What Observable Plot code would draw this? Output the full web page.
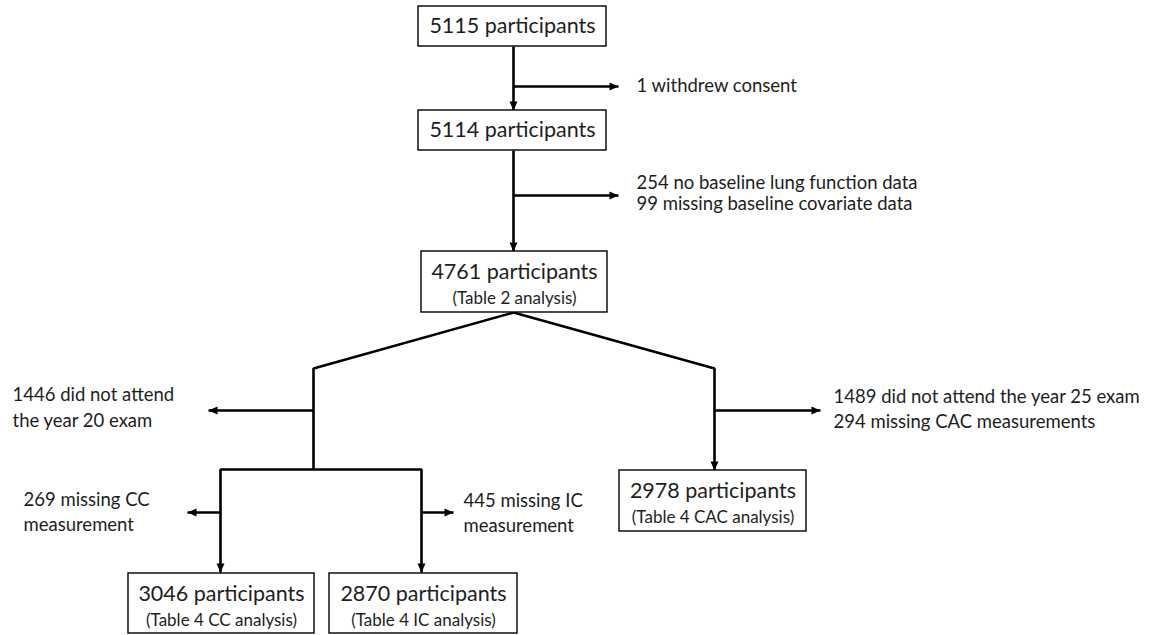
<!DOCTYPE html>
<html>
<head>
<meta charset="utf-8">
<script src="https://cdn.jsdelivr.net/npm/d3@7"></script>
<script src="https://cdn.jsdelivr.net/npm/@observablehq/plot@0.6"></script>
<style>
  html, body { margin: 0; padding: 0; background: #fff; }
</style>
</head>
<body>
<div id="chart"></div>
<script>
// ---------------- data ----------------
const participants = [5115, 5114, 4761, 2978, 3046, 2870];
const boxNotes = [null, null, "(Table 2 analysis)", "(Table 4 CAC analysis)", "(Table 4 CC analysis)", "(Table 4 IC analysis)"];
const exclusionCounts = [1, 254, 99, 1446, 1489, 294, 269, 445];
const exclusionReasons = [
  "withdrew consent",
  "no baseline lung function data",
  "missing baseline covariate data",
  "did not attend\nthe year 20 exam",
  "did not attend the year 25 exam",
  "missing CAC measurements",
  "missing CC\nmeasurement",
  "missing IC\nmeasurement"
];

// ---------------- layout (diagram units = pixels) ----------------
const boxLeft   = [418, 418, 421, 619, 128, 329];
const boxRight  = [606, 606, 607, 806, 314, 517];
const boxTop    = [6, 110, 251, 470, 573, 573];
const boxBottom = [46, 150, 312, 531, 633, 633];

const labelX   = [636, 636, 636, 12, 833, 833, 23, 463];
const labelY   = [86, 183, 204, 395, 397, 422, 500, 501];
const labelGap = [0, 0, 0, 26, 0, 0, 25, 25];

// connector polylines: [pathId, x, y]
const connectorPoints = [
  ["a", 513, 46], ["a", 513, 110],
  ["b", 513, 86], ["b", 618, 86],
  ["c", 513, 150], ["c", 513, 251],
  ["d", 513, 195], ["d", 618, 195],
  ["e", 313, 469], ["e", 313, 368], ["e", 513, 312], ["e", 714, 368], ["e", 714, 470],
  ["f", 313, 410], ["f", 208, 410],
  ["g", 714, 410], ["g", 820, 410],
  ["h", 220, 572], ["h", 220, 469], ["h", 421, 469], ["h", 421, 572],
  ["i", 220, 512], ["i", 187, 512],
  ["j", 421, 512], ["j", 453, 512]
];
// arrow heads: [x, y, direction]
const arrowTips = [
  [513, 110, "down"], [618, 86, "right"], [513, 251, "down"], [618, 195, "right"],
  [714, 470, "down"], [208, 410, "left"], [820, 410, "right"],
  [220, 572, "down"], [421, 572, "down"], [187, 512, "left"], [453, 512, "right"]
];

// ---------------- build ----------------
const W = 1159, H = 635;
const FONT = "Lato";
const INK = "#1e1e1e";

const boxes = participants.map((n, i) => ({
  title: `${n} participants`, note: boxNotes[i],
  x1: boxLeft[i], x2: boxRight[i], y1: boxTop[i], y2: boxBottom[i]
}));
const titleTexts = boxes.map(b => ({
  text: b.title, x: (b.x1 + b.x2) / 2, y: b.note ? b.y1 + 21 : (b.y1 + b.y2) / 2
}));
const noteTexts = boxes.filter(b => b.note).map(b => ({
  text: b.note, x: (b.x1 + b.x2) / 2, y: b.y1 + 47
}));

const labelLines = [];
exclusionCounts.forEach((n, i) => {
  const lines = `${n} ${exclusionReasons[i]}`.split("\n");
  lines.forEach((t, j) => labelLines.push({ text: t, x: labelX[i], y: labelY[i] + j * labelGap[i] }));
});

const connectors = connectorPoints.map(([id, x, y]) => ({ id, x, y }));
const rot = { right: 90, down: 180, left: 270, up: 0 };
const heads = arrowTips.map(([x, y, d]) => ({ x, y, rotate: rot[d] }));

const arrowHead = {
  draw(ctx) {
    ctx.moveTo(0, 0);
    ctx.lineTo(4, 9);
    ctx.lineTo(-4, 9);
    ctx.closePath();
  }
};

const chart = Plot.plot({
  width: W,
  height: H,
  margin: 0,
  x: { domain: [0, W], range: [0, W], axis: null },
  y: { domain: [0, H], range: [0, H], axis: null },
  style: { background: "#fff", fontFamily: FONT, overflow: "visible" },
  marks: [
    Plot.line(connectors, { x: "x", y: "y", z: "id", stroke: "#000", strokeWidth: 2.6, strokeLinejoin: "miter", strokeLinecap: "butt", curve: "linear" }),
    Plot.dot(heads, { x: "x", y: "y", rotate: "rotate", symbol: arrowHead, r: 5, fill: "#000", stroke: "none" }),
    Plot.rect(boxes, { x1: "x1", x2: "x2", y1: "y1", y2: "y2", fill: "#fff", stroke: "#000", strokeWidth: 1.4 }),
    Plot.text(titleTexts, { x: "x", y: "y", text: "text", fontSize: 21.5, fill: INK, textAnchor: "middle", lineAnchor: "middle", fontFamily: FONT }),
    Plot.text(noteTexts, { x: "x", y: "y", text: "text", fontSize: 17, fill: INK, textAnchor: "middle", lineAnchor: "middle", fontFamily: FONT }),
    Plot.text(labelLines, { x: "x", y: "y", text: "text", fontSize: 18.5, fill: INK, textAnchor: "start", lineAnchor: "middle", fontFamily: FONT })
  ]
});
document.getElementById("chart").appendChild(chart);
</script>
</body>
</html>
